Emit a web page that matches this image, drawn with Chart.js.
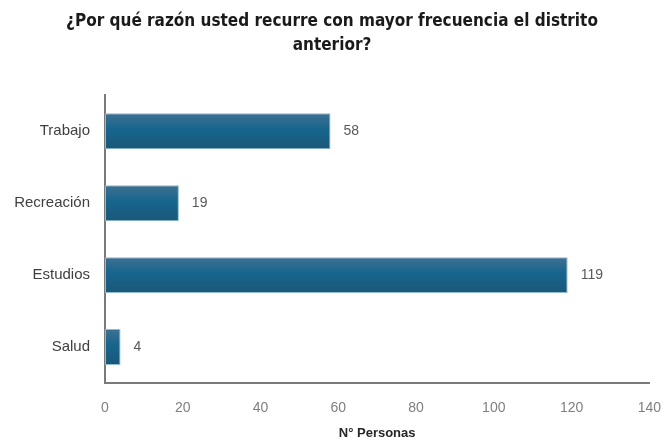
<!DOCTYPE html>
<html>
<head>
<meta charset="utf-8">
<script src="https://cdn.jsdelivr.net/npm/chart.js@4/dist/chart.umd.min.js"></script>
<style>
  html, body { margin: 0; padding: 0; background: #ffffff; }
  #wrap { width: 664px; height: 438px; }
</style>
</head>
<body>
<div id="wrap"><canvas id="c" width="664" height="438"></canvas></div>
<script>
// Razones de visita al distrito anterior
const categories = ['Trabajo', 'Recreación', 'Estudios', 'Salud'];
const personas = [58, 19, 119, 4];
const xTicks = [0, 20, 40, 60, 80, 100, 120, 140];

const titleLines = ['¿Por qué razón usted recurre con mayor frecuencia el distrito', 'anterior?'];
const xTitle = 'N° Personas';

// Etiquetas de valor a la derecha de cada barra
const valueLabels = {
  id: 'valueLabels',
  afterDatasetsDraw(chart) {
    const ctx = chart.ctx;
    const meta = chart.getDatasetMeta(0);
    ctx.save();
    ctx.font = '14px "Liberation Sans", Arial, sans-serif';
    ctx.fillStyle = '#595959';
    ctx.textAlign = 'left';
    ctx.textBaseline = 'middle';
    meta.data.forEach((bar, i) => {
      ctx.fillText(String(personas[i]), bar.x + 13, bar.y);
    });
    ctx.restore();
  }
};

// Degradado vertical de cada barra
function barFill(c) {
  const chart = c.chart;
  const y = chart.scales && chart.scales.y;
  if (!y || c.dataIndex === undefined || !chart.chartArea) return '#17648b';
  const cy = y.getPixelForValue(c.dataIndex);
  const half = y.height / categories.length / 4;
  const g = chart.ctx.createLinearGradient(0, cy - half, 0, cy + half);
  g.addColorStop(0, '#3f7191');
  g.addColorStop(0.45, '#16658d');
  g.addColorStop(1, '#1b5778');
  return g;
}

new Chart(document.getElementById('c'), {
  type: 'bar',
  data: {
    labels: categories,
    datasets: [{
      data: personas,
      backgroundColor: barFill,
      borderColor: '#8fbad0',
      borderWidth: 1,
      borderSkipped: false,
      categoryPercentage: 1,
      barPercentage: 0.5
    }]
  },
  options: {
    indexAxis: 'y',
    responsive: false,
    animation: false,
    devicePixelRatio: 1,
    layout: { padding: { left: 0, right: 0, top: 0, bottom: 0 } },
    plugins: {
      legend: { display: false },
      tooltip: { enabled: false },
      title: {
        display: true,
        text: titleLines,
        color: '#1a1a1a',
        font: { family: '"DejaVu Sans Condensed", sans-serif', size: 17, weight: 'bold', lineHeight: 1.45 },
        padding: { top: 9, bottom: 37 }
      }
    },
    scales: {
      x: {
        type: 'linear',
        min: 0,
        max: 140,
        afterBuildTicks(scale) { scale.ticks = xTicks.map(v => ({ value: v })); },
        grid: { display: false, drawTicks: true, tickLength: 14 },
        border: { display: true, color: '#7a7a7a', width: 2 },
        ticks: {
          color: '#7f7f7f',
          padding: 3,
          font: { family: '"Liberation Sans", Arial, sans-serif', size: 14 }
        },
        title: {
          display: true,
          text: xTitle,
          color: '#262626',
          font: { family: '"Liberation Sans", Arial, sans-serif', size: 13, weight: 'bold' },
          padding: { top: 8, bottom: -3 }
        },
        afterFit(scale) { scale.height = 55; }
      },
      y: {
        type: 'category',
        grid: { display: false, drawTicks: false },
        border: { display: true, color: '#7a7a7a', width: 2 },
        ticks: {
          color: '#404040',
          padding: 15,
          font: { family: '"Liberation Sans", Arial, sans-serif', size: 15 }
        },
        afterFit(scale) { scale.width = 105; }
      }
    }
  },
  plugins: [valueLabels]
});
</script>
</body>
</html>
